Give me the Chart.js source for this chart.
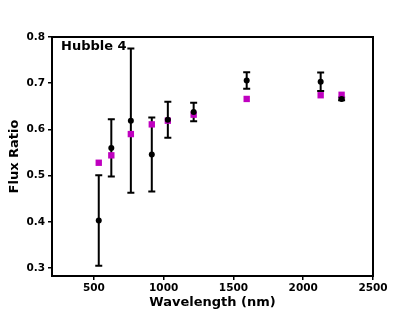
<!DOCTYPE html>
<html lang="en">
<head>
  <meta charset="UTF-8">
  <title>Hubble 4 Flux Ratio</title>
  <script src="https://cdn.jsdelivr.net/npm/chart.js"></script>
  <style>
    body { margin: 0; background: #fff; }
  </style>
</head>
<body>

<canvas id="myChart" width="415" height="311"></canvas>

<script>
  // observed flux ratios (black) with errors, and model values (magenta)
  const wavelengths = [535, 625, 765, 915, 1030, 1215, 1595, 2125, 2275];
  const fluxRatio = [0.403, 0.560, 0.619, 0.546, 0.621, 0.638, 0.706, 0.703, 0.666];
  const fluxErr = [0.098, 0.062, 0.156, 0.080, 0.039, 0.020, 0.018, 0.020, 0.003];
  const modelRatio = [0.528, 0.544, 0.590, 0.611, 0.619, 0.632, 0.666, 0.674, 0.675];

  const xTicks = [500, 1000, 1500, 2000, 2500];
  const yTicks = [0.3, 0.4, 0.5, 0.6, 0.7, 0.8];

  const tickFont = { family: 'DejaVu Sans', weight: 'bold', size: 10.5 };
  const titleFont = { family: 'DejaVu Sans', weight: 'bold', size: 13 };

  const errorBars = {
    id: 'errorBars',
    beforeDatasetsDraw(chart) {
      const { ctx, scales: { x, y } } = chart;
      ctx.save();
      ctx.strokeStyle = '#000';
      ctx.lineWidth = 2;
      wavelengths.forEach((w, i) => {
        const px = x.getPixelForValue(w);
        const top = y.getPixelForValue(fluxRatio[i] + fluxErr[i]);
        const bot = y.getPixelForValue(fluxRatio[i] - fluxErr[i]);
        ctx.beginPath();
        ctx.moveTo(px, top); ctx.lineTo(px, bot);
        ctx.moveTo(px - 3.5, top); ctx.lineTo(px + 3.5, top);
        ctx.moveTo(px - 3.5, bot); ctx.lineTo(px + 3.5, bot);
        ctx.stroke();
      });
      ctx.restore();
    },
    afterDraw(chart) {
      const { ctx, chartArea: a } = chart;
      ctx.save();
      ctx.strokeStyle = '#000';
      ctx.lineWidth = 2;
      ctx.strokeRect(a.left, a.top, a.right - a.left, a.bottom - a.top);
      ctx.fillStyle = '#000';
      ctx.font = 'bold 13px "DejaVu Sans"';
      ctx.textBaseline = 'alphabetic';
      ctx.fillText('Hubble 4', a.left + 9, a.top + 13);
      ctx.restore();
    }
  };

  const ctx = document.getElementById('myChart').getContext('2d');

  const myChart = new Chart(ctx, {
    type: 'scatter',
    data: {
      datasets: [{
        label: 'Observed',
        data: wavelengths.map((w, i) => ({ x: w, y: fluxRatio[i] })),
        backgroundColor: '#000',
        borderColor: '#000',
        borderWidth: 0,
        pointRadius: 3,
        order: 1
      }, {
        label: 'Model',
        data: wavelengths.map((w, i) => ({ x: w, y: modelRatio[i] })),
        backgroundColor: '#bf00bf',
        borderColor: '#bf00bf',
        borderWidth: 0,
        pointStyle: 'rect',
        pointRadius: 4.5,
        order: 2
      }]
    },
    options: {
      responsive: false,
      animation: false,
      layout: { padding: { top: 37, right: 42, left: 0, bottom: 0 } },
      plugins: { legend: { display: false }, tooltip: { enabled: false } },
      scales: {
        x: {
          type: 'linear',
          min: 200,
          max: 2500,
          afterBuildTicks: s => { s.ticks = xTicks.map(v => ({ value: v })); },
          afterFit: s => { s.height = 35; },
          ticks: { color: '#000', font: tickFont, padding: 2, maxRotation: 0, callback: v => String(v) },
          grid: { drawOnChartArea: false, drawTicks: true, tickLength: 4, color: '#000', lineWidth: 1.5 },
          border: { display: true, color: '#000', width: 2 },
          title: { display: true, text: 'Wavelength (nm)', color: '#000', font: titleFont, padding: { top: 0, bottom: 1 } }
        },
        y: {
          min: 0.283,
          max: 0.8,
          afterBuildTicks: s => { s.ticks = yTicks.map(v => ({ value: v })); },
          afterFit: s => { s.width = 52; },
          ticks: { color: '#000', font: tickFont, padding: 3, callback: v => v.toFixed(1) },
          grid: { drawOnChartArea: false, drawTicks: true, tickLength: 4, color: '#000', lineWidth: 1.5 },
          border: { display: true, color: '#000', width: 2 },
          title: { display: true, text: 'Flux Ratio', color: '#000', font: titleFont, padding: { top: 7, bottom: 0 } }
        }
      }
    },
    plugins: [errorBars]
  });
</script>

</body>
</html>
